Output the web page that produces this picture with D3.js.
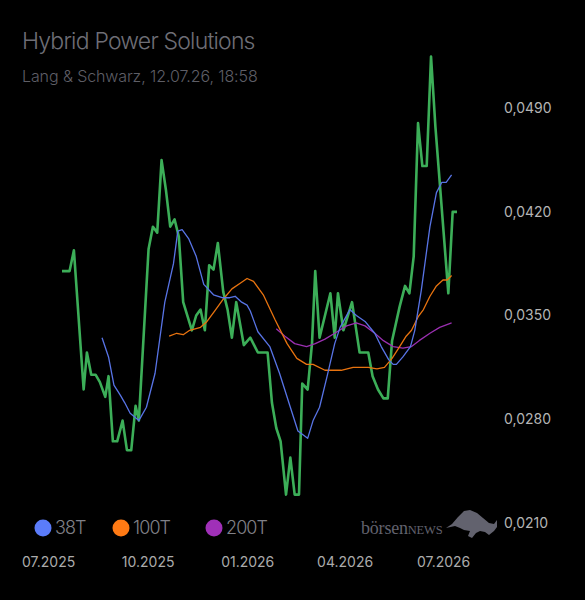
<!DOCTYPE html>
<html>
<head>
<meta charset="utf-8">
<script src="https://cdn.jsdelivr.net/npm/d3@7"></script>
<style>
  html, body { margin: 0; padding: 0; background: #000; }
  svg { display: block; font-family: Inter, "Noto Sans", sans-serif; }
</style>
</head>
<body>
<div id="chart"></div>
<script>
// Kurs (Lang & Schwarz)
const priceDates = [
    '2025-07-12', '2025-07-19', '2025-07-23', '2025-08-01', '2025-08-04', '2025-08-08',
    '2025-08-12', '2025-08-16', '2025-08-21', '2025-08-24', '2025-08-28', '2025-09-01',
    '2025-09-06', '2025-09-10', '2025-09-14', '2025-09-18', '2025-09-21', '2025-09-30',
    '2025-10-04', '2025-10-08', '2025-10-12', '2025-10-16', '2025-10-20', '2025-10-24',
    '2025-10-28', '2025-11-01', '2025-11-09', '2025-11-13', '2025-11-17', '2025-11-21',
    '2025-11-25', '2025-11-29', '2025-12-03', '2025-12-08', '2025-12-12', '2025-12-16',
    '2025-12-20', '2025-12-27', '2026-01-02', '2026-01-09', '2026-01-18', '2026-01-22',
    '2026-01-26', '2026-01-30', '2026-02-04', '2026-02-08', '2026-02-12', '2026-02-16',
    '2026-02-19', '2026-02-24', '2026-02-28', '2026-03-03', '2026-03-07', '2026-03-17',
    '2026-03-21', '2026-03-24', '2026-03-29', '2026-04-06', '2026-04-13', '2026-04-21',
    '2026-04-25', '2026-04-30', '2026-05-05', '2026-05-09', '2026-05-13', '2026-05-20',
    '2026-05-25', '2026-05-29', '2026-06-02', '2026-06-06', '2026-06-10', '2026-06-14',
    '2026-06-18', '2026-06-22', '2026-07-04', '2026-07-08', '2026-07-12'
];
const priceValues = [
    0.0380, 0.0380, 0.0394, 0.0300, 0.0325, 0.0310,
    0.0310, 0.0305, 0.0295, 0.0309, 0.0265, 0.0265,
    0.0279, 0.0259, 0.0259, 0.0289, 0.0279, 0.0395,
    0.0410, 0.0406, 0.0455, 0.0435, 0.0410, 0.0415,
    0.0403, 0.0359, 0.0340, 0.0350, 0.0354, 0.0340,
    0.0384, 0.0381, 0.0399, 0.0366, 0.0354, 0.0335,
    0.0359, 0.0330, 0.0335, 0.0325, 0.0325, 0.0291,
    0.0274, 0.0265, 0.0229, 0.0254, 0.0229, 0.0229,
    0.0304, 0.0300, 0.0331, 0.0380, 0.0335, 0.0365,
    0.0335, 0.0365, 0.0340, 0.0359, 0.0325, 0.0325,
    0.0309, 0.0300, 0.0294, 0.0294, 0.0333, 0.0356,
    0.0370, 0.0365, 0.0390, 0.0480, 0.0451, 0.0451,
    0.0525, 0.0478, 0.0365, 0.0420, 0.0420
];

// 38-Tage-Linie
const ma38Dates = [
    '2025-08-18', '2025-08-24', '2025-08-29', '2025-09-04', '2025-09-08', '2025-09-13',
    '2025-09-21', '2025-09-28', '2025-10-06', '2025-10-15', '2025-10-23', '2025-10-27',
    '2025-10-31', '2025-11-06', '2025-11-13', '2025-11-20', '2025-11-29', '2025-12-07',
    '2025-12-14', '2025-12-19', '2025-12-25', '2025-12-30', '2026-01-02', '2026-01-06',
    '2026-01-09', '2026-01-20', '2026-01-29', '2026-02-08', '2026-02-15', '2026-02-24',
    '2026-03-01', '2026-03-07', '2026-03-14', '2026-03-21', '2026-03-26', '2026-04-04',
    '2026-04-10', '2026-04-18', '2026-04-27', '2026-05-03', '2026-05-10', '2026-05-14',
    '2026-05-17', '2026-05-23', '2026-05-30', '2026-06-03', '2026-06-09', '2026-06-14',
    '2026-06-17', '2026-06-23', '2026-06-28', '2026-07-02', '2026-07-07'
];
const ma38Values = [
    0.0335, 0.0322, 0.0303, 0.0296, 0.0291, 0.0284,
    0.0279, 0.0288, 0.0311, 0.0359, 0.0385, 0.0407,
    0.0408, 0.0402, 0.0390, 0.0371, 0.0364, 0.0362,
    0.0362, 0.0363, 0.0359, 0.0357, 0.0353, 0.0345,
    0.0339, 0.0329, 0.0311, 0.0288, 0.0272, 0.0267,
    0.0279, 0.0288, 0.0309, 0.0331, 0.0342, 0.0354,
    0.0350, 0.0346, 0.0338, 0.0329, 0.0320, 0.0317,
    0.0317, 0.0322, 0.0329, 0.0340, 0.0367, 0.0394,
    0.0410, 0.0433, 0.0440, 0.0440, 0.0445
];

// 100-Tage-Linie
const ma100Dates = [
    '2025-10-19', '2025-10-26', '2025-11-01', '2025-11-07', '2025-11-17', '2025-11-23',
    '2025-11-30', '2025-12-08', '2025-12-16', '2025-12-24', '2025-12-30', '2026-01-05',
    '2026-01-14', '2026-01-25', '2026-02-05', '2026-02-14', '2026-02-23', '2026-03-01',
    '2026-03-12', '2026-03-20', '2026-03-27', '2026-04-07', '2026-04-21', '2026-04-29',
    '2026-05-06', '2026-05-13', '2026-05-20', '2026-05-26', '2026-05-31', '2026-06-06',
    '2026-06-11', '2026-06-17', '2026-06-23', '2026-06-29', '2026-07-03', '2026-07-07'
];
const ma100Values = [
    0.0336, 0.0338, 0.0337, 0.0340, 0.0342, 0.0346,
    0.0353, 0.0361, 0.0368, 0.0372, 0.0375, 0.0373,
    0.0364, 0.0347, 0.0331, 0.0321, 0.0317, 0.0317,
    0.0313, 0.0313, 0.0313, 0.0315, 0.0315, 0.0314,
    0.0315, 0.0321, 0.0329, 0.0336, 0.0340, 0.0349,
    0.0354, 0.0363, 0.0370, 0.0374, 0.0374, 0.0377
];

// 200-Tage-Linie
const ma200Dates = [
    '2026-01-26', '2026-02-03', '2026-02-12', '2026-02-23', '2026-03-03', '2026-03-12',
    '2026-03-21', '2026-04-01', '2026-04-10', '2026-04-18', '2026-04-27', '2026-05-05',
    '2026-05-14', '2026-05-23', '2026-05-31', '2026-06-07', '2026-06-17', '2026-06-26',
    '2026-07-07'
];
const ma200Values = [
    0.0341, 0.0336, 0.0331, 0.0329, 0.0331, 0.0334,
    0.0338, 0.0343, 0.0345, 0.0343, 0.0338, 0.0333,
    0.0329, 0.0328, 0.0329, 0.0333, 0.0338, 0.0342,
    0.0345
];

const yTicks = [0.0210, 0.0280, 0.0350, 0.0420, 0.0490];
const xTickDates = ['2025-07-01', '2025-10-01', '2026-01-01', '2026-04-01', '2026-07-01'];
const legendLabels = ['38T', '100T', '200T'];

const site = {};

site.chart = (() => {
    const width = 585;
    const height = 600;
    const parse = d3.timeParse('%Y-%m-%d');

    const toSeries = (dates, values) => dates.map((d, i) => ({ date: parse(d), value: values[i] }));

    const createChart = () => {
        const svg = d3.select('#chart')
            .append('svg')
            .attr('width', width)
            .attr('height', height);

        svg.append('rect')
            .attr('width', width)
            .attr('height', height)
            .attr('fill', '#000');

        const x = d3.scaleTime()
            .domain([parse('2025-07-12'), parse('2026-07-12')])
            .range([62, 457]);

        const y = d3.scaleLinear()
            .domain([0.021, 0.049])
            .range([522.7, 108.3]);

        // titel
        svg.append('text')
            .attr('x', 22)
            .attr('y', 49)
            .attr('fill', '#6e6e76')
            .attr('font-size', '23px')
            .attr('font-weight', 300)
            .attr('letter-spacing', '-0.8px')
            .text('Hybrid Power Solutions');

        svg.append('text')
            .attr('x', 22)
            .attr('y', 82)
            .attr('fill', '#5e5e66')
            .attr('font-size', '16px')
            .attr('font-weight', 300)
            .attr('letter-spacing', '-0.1px')
            .text('Lang & Schwarz, 12.07.26, 18:58');

        // y-achse rechts
        svg.append('g')
            .attr('transform', 'translate(504, 0)')
            .call(
                d3.axisRight(y)
                    .tickValues(yTicks)
                    .tickSize(0)
                    .tickPadding(0)
                    .tickFormat(d => d.toFixed(4).replace('.', ','))
            )
            .call(g => g.select('.domain').remove())
            .selectAll('text')
            .attr('fill', '#b4b4b4')
            .attr('font-size', '14px')
            .attr('font-family', 'Inter, sans-serif');

        // x-achse
        svg.append('g')
            .attr('transform', 'translate(-2, 557)')
            .call(
                d3.axisBottom(x)
                    .tickValues(xTickDates.map(parse))
                    .tickSize(0)
                    .tickPadding(0)
                    .tickFormat(d3.timeFormat('%m.%Y'))
            )
            .call(g => g.select('.domain').remove())
            .selectAll('text')
            .attr('fill', '#ababab')
            .attr('font-size', '14px')
            .attr('font-family', 'Inter, sans-serif');

        const line = d3.line()
            .x(d => x(d.date))
            .y(d => y(d.value));

        const lines = [
            { data: toSeries(priceDates, priceValues), color: '#3cae58', w: 2.6 },
            { data: toSeries(ma200Dates, ma200Values), color: '#9a2fb0', w: 1.3 },
            { data: toSeries(ma100Dates, ma100Values), color: '#e8730f', w: 1.3 },
            { data: toSeries(ma38Dates, ma38Values), color: '#5874e6', w: 1.3 }
        ];

        svg.append('g')
            .selectAll('path')
            .data(lines)
            .join('path')
            .attr('d', d => line(d.data))
            .attr('fill', 'none')
            .attr('stroke', d => d.color)
            .attr('stroke-width', d => d.w)
            .attr('stroke-linejoin', 'round');

        // legende
        const legendColors = ['#5b7cfa', '#ff7a14', '#a030b8'];
        const legendX = d3.scaleOrdinal()
            .domain(legendLabels)
            .range([43, 121, 214]);

        const legend = svg.append('g')
            .selectAll('g')
            .data(legendLabels)
            .join('g')
            .attr('transform', d => `translate(${legendX(d)}, 528)`);

        legend.append('circle')
            .attr('r', 8.5)
            .attr('fill', (d, i) => legendColors[i]);

        legend.append('text')
            .attr('x', 12)
            .attr('dy', '0.36em')
            .attr('fill', '#808088')
            .attr('font-size', '18px')
            .attr('font-weight', 300)
            .attr('letter-spacing', '-0.9px')
            .text(d => d);

        // logo
        const logo = svg.append('g').attr('fill', '#62626e');

        logo.append('text')
            .attr('x', 361)
            .attr('y', 534)
            .attr('font-family', '"Liberation Serif", "DejaVu Serif", serif')
            .attr('font-size', '18px')
            .attr('letter-spacing', '-0.2px')
            .text('börsen')
            .append('tspan')
            .attr('font-size', '12.5px')
            .text('NEWS');

        logo.append('path')
            .attr('d', 'M446,528 L452,524 L458,517 L464,511 L470,510 L477,513 L483,518 L489,523 L494,524 L497,520 L497,527 L494,531 L489,535 L485,532 L480,531 L476,533 L472,538 L468,536 L470,531 L464,530 L460,528 L455,526 Z');
    };

    const init = () => {
        document.getElementById('chart').innerHTML = '';
        createChart();
    };

    return {
        init
    };
})();

site.chart.init();
</script>
</body>
</html>
